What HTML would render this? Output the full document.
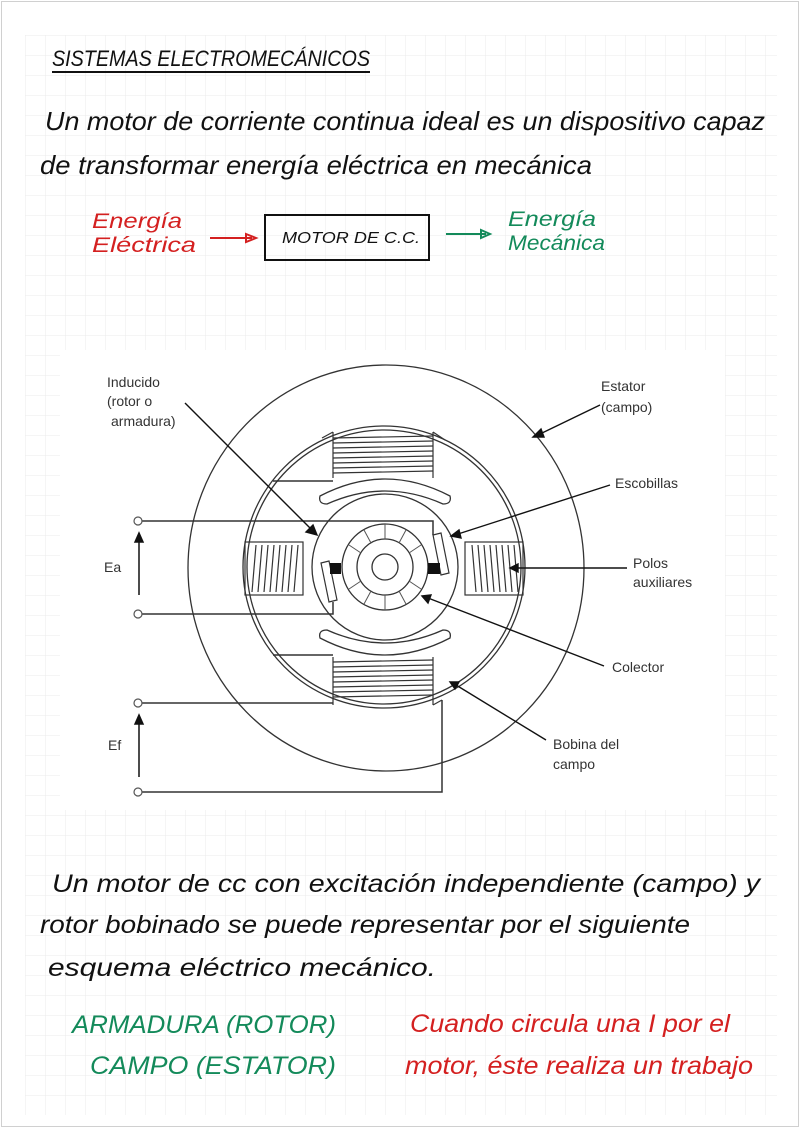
<!DOCTYPE html>
<html><head><meta charset="utf-8"><style>
html,body{margin:0;padding:0;background:#fff}
svg{display:block}
.h{font-family:"Liberation Sans",sans-serif;font-style:italic}
.l{font-family:"Liberation Sans",sans-serif;font-size:14px;fill:#333}
</style></head><body>
<svg width="800" height="1128" viewBox="0 0 800 1128" xmlns="http://www.w3.org/2000/svg">
<defs>
<pattern id="g" x="25" y="35" width="20" height="20" patternUnits="userSpaceOnUse">
<path d="M0 0H20M0 0V20" stroke="#ebebeb" stroke-width="1" fill="none"/>
</pattern>
</defs>
<rect x="0" y="0" width="800" height="1128" fill="#fff"/>
<rect x="25" y="35" width="752" height="1080" fill="url(#g)"/>
<rect x="1.5" y="1.5" width="797" height="1125" fill="none" stroke="#d0d0d0"/>

<!-- header text -->
<text class="h" x="52" y="66" font-size="22" textLength="318" lengthAdjust="spacingAndGlyphs" fill="#111">SISTEMAS ELECTROMECÁNICOS</text>
<line x1="52" y1="72" x2="370" y2="72" stroke="#111" stroke-width="2"/>
<text class="h" x="45" y="130" font-size="26" textLength="720" lengthAdjust="spacingAndGlyphs" fill="#111">Un motor de corriente continua ideal es un dispositivo capaz</text>
<text class="h" x="40" y="174" font-size="26" textLength="552" lengthAdjust="spacingAndGlyphs" fill="#111">de transformar energía eléctrica en mecánica</text>

<text class="h" x="92" y="228" font-size="21" textLength="90" lengthAdjust="spacingAndGlyphs" fill="#d42020">Energía</text>
<text class="h" x="92" y="252" font-size="21" textLength="104" lengthAdjust="spacingAndGlyphs" fill="#d42020">Eléctrica</text>
<line x1="210" y1="238" x2="252" y2="238" stroke="#d42020" stroke-width="2"/>
<path d="M246 234 L256 238 L246 242Z" fill="none" stroke="#d42020" stroke-width="2"/>
<rect x="265" y="215" width="164" height="45" fill="none" stroke="#111" stroke-width="2"/>
<text class="h" x="282" y="243" font-size="16" textLength="138" lengthAdjust="spacingAndGlyphs" fill="#111">MOTOR DE C.C.</text>
<line x1="446" y1="234" x2="486" y2="234" stroke="#138a5a" stroke-width="2"/>
<path d="M481 230 L490 234 L481 238Z" fill="none" stroke="#138a5a" stroke-width="2"/>
<text class="h" x="508" y="226" font-size="21" textLength="88" lengthAdjust="spacingAndGlyphs" fill="#138a5a">Energía</text>
<text class="h" x="508" y="250" font-size="21" textLength="97" lengthAdjust="spacingAndGlyphs" fill="#138a5a">Mecánica</text>

<!-- diagram -->
<rect x="60" y="350" width="665" height="460" fill="#fff"/>
<g fill="none" stroke="#333" stroke-width="1.3">
<ellipse cx="386" cy="568" rx="198" ry="203"/>
<circle cx="384" cy="567" r="141"/>
<circle cx="384" cy="567" r="137"/>
<circle cx="385" cy="567" r="73"/>
<circle cx="385" cy="567" r="43"/>
<circle cx="385" cy="567" r="28"/>
<circle cx="385" cy="567" r="13"/>
</g>
<!-- commutator segments -->
<g stroke="#555" stroke-width="1">
<line x1="385" y1="524" x2="385" y2="539"/><line x1="385" y1="595" x2="385" y2="610"/>
<line x1="406" y1="530" x2="399" y2="543"/><line x1="364" y1="530" x2="371" y2="543"/>
<line x1="421" y1="545" x2="409" y2="553"/><line x1="349" y1="545" x2="361" y2="553"/>
<line x1="421" y1="589" x2="409" y2="581"/><line x1="349" y1="589" x2="361" y2="581"/>
<line x1="406" y1="604" x2="399" y2="591"/><line x1="364" y1="604" x2="371" y2="591"/>
</g>
<!-- pole shoes -->
<g fill="#fff" stroke="#333" stroke-width="1.3">
<path d="M320 496 Q385 462 450 496 Q452 504 443 504 Q385 478 327 504 Q318 504 320 496Z"/>
<path d="M320 638 Q385 672 450 638 Q452 630 443 630 Q385 656 327 630 Q318 630 320 638Z"/>
</g>
<!-- top coil -->
<g stroke="#333" stroke-width="1.2" fill="none">
<line x1="333" y1="432" x2="333" y2="478"/><line x1="433" y1="432" x2="433" y2="478"/>
<line x1="333" y1="432" x2="322" y2="438"/><line x1="433" y1="432" x2="445" y2="440"/>
<line x1="333" y1="438" x2="433" y2="436"/><line x1="333" y1="443" x2="433" y2="441"/><line x1="333" y1="448" x2="433" y2="446"/><line x1="333" y1="453" x2="433" y2="451"/><line x1="333" y1="458" x2="433" y2="456"/><line x1="333" y1="463" x2="433" y2="461"/><line x1="333" y1="468" x2="433" y2="466"/><line x1="333" y1="473" x2="433" y2="471"/>
<!-- bottom coil -->
<line x1="333" y1="657" x2="333" y2="705"/><line x1="433" y1="657" x2="433" y2="705"/>
<line x1="333" y1="662" x2="433" y2="660"/><line x1="333" y1="667" x2="433" y2="665"/><line x1="333" y1="672" x2="433" y2="670"/><line x1="333" y1="677" x2="433" y2="675"/><line x1="333" y1="682" x2="433" y2="680"/><line x1="333" y1="687" x2="433" y2="685"/><line x1="333" y1="692" x2="433" y2="690"/><line x1="333" y1="697" x2="433" y2="695"/>
<line x1="433" y1="705" x2="442" y2="700"/>
<!-- left coil -->
<rect x="245" y="542" width="58" height="53"/>
<line x1="252" y1="592" x2="256" y2="545"/><line x1="258" y1="592" x2="262" y2="545"/><line x1="264" y1="592" x2="268" y2="545"/><line x1="270" y1="592" x2="274" y2="545"/><line x1="276" y1="592" x2="280" y2="545"/><line x1="282" y1="592" x2="286" y2="545"/><line x1="288" y1="592" x2="292" y2="545"/><line x1="294" y1="592" x2="298" y2="545"/>
<!-- right coil -->
<rect x="465" y="542" width="58" height="53"/>
<line x1="472" y1="545" x2="476" y2="592"/><line x1="478" y1="545" x2="482" y2="592"/><line x1="484" y1="545" x2="488" y2="592"/><line x1="490" y1="545" x2="494" y2="592"/><line x1="496" y1="545" x2="500" y2="592"/><line x1="502" y1="545" x2="506" y2="592"/><line x1="508" y1="545" x2="512" y2="592"/><line x1="514" y1="545" x2="518" y2="592"/>
</g>
<!-- brushes -->
<g fill="#fff" stroke="#333" stroke-width="1.2">
<polygon points="433,535 441,533 449,573 441,575"/>
<polygon points="321,563 329,561 337,600 329,602"/>
</g>
<rect x="428" y="563" width="12" height="11" fill="#111"/>
<rect x="330" y="563" width="11" height="11" fill="#111"/>
<!-- wires -->
<g fill="none" stroke="#333" stroke-width="1.5">
<polyline points="142,521 433,521 433,535"/>
<polyline points="142,614 333,614 333,602"/>
<polyline points="142,703 333,703"/>
<polyline points="142,792 442,792 442,700"/>
<polyline points="273,481 333,481"/>
<polyline points="273,655 333,655"/>
</g>
<g fill="#fff" stroke="#555" stroke-width="1.2">
<circle cx="138" cy="521" r="4"/><circle cx="138" cy="614" r="4"/>
<circle cx="138" cy="703" r="4"/><circle cx="138" cy="792" r="4"/>
</g>
<g stroke="#111" stroke-width="1.5" fill="#111">
<line x1="139" y1="595" x2="139" y2="540"/><path d="M135 542 L139 533 L143 542Z"/>
<line x1="139" y1="777" x2="139" y2="722"/><path d="M135 724 L139 715 L143 724Z"/>
</g>
<text class="l" x="104" y="572" font-size="15">Ea</text>
<text class="l" x="108" y="750" font-size="15">Ef</text>
<!-- leaders -->
<g stroke="#111" stroke-width="1.4" fill="#111">
<line x1="185" y1="403" x2="312" y2="530"/><path d="M317 535 L306 532 L313 525Z"/>
<line x1="600" y1="405" x2="540" y2="434"/><path d="M533 437 L541 429 L544 437Z"/>
<line x1="610" y1="485" x2="458" y2="534"/><path d="M451 536 L459 530 L461 538Z"/>
<line x1="627" y1="568" x2="515" y2="568"/><path d="M510 568 L518 564 L518 572Z"/>
<line x1="604" y1="666" x2="428" y2="598"/><path d="M422 596 L431 595 L428 603Z"/>
<line x1="546" y1="740" x2="456" y2="685"/><path d="M450 682 L459 682 L455 689Z"/>
</g>
<text class="l" x="107" y="387">Inducido</text>
<text class="l" x="107" y="406">(rotor o</text>
<text class="l" x="111" y="426">armadura)</text>
<text class="l" x="601" y="391">Estator</text>
<text class="l" x="601" y="412">(campo)</text>
<text class="l" x="615" y="488">Escobillas</text>
<text class="l" x="633" y="568">Polos</text>
<text class="l" x="633" y="587">auxiliares</text>
<text class="l" x="612" y="672">Colector</text>
<text class="l" x="553" y="749">Bobina del</text>
<text class="l" x="553" y="769">campo</text>

<!-- bottom text -->
<text class="h" x="52" y="892" font-size="25" textLength="708" lengthAdjust="spacingAndGlyphs" fill="#111">Un motor de cc con excitación independiente (campo) y</text>
<text class="h" x="40" y="933" font-size="25" textLength="650" lengthAdjust="spacingAndGlyphs" fill="#111">rotor bobinado se puede representar por el siguiente</text>
<text class="h" x="48" y="976" font-size="25" textLength="388" lengthAdjust="spacingAndGlyphs" fill="#111">esquema eléctrico mecánico.</text>
<text class="h" x="72" y="1033" font-size="25" textLength="264" lengthAdjust="spacingAndGlyphs" fill="#138a5a">ARMADURA (ROTOR)</text>
<text class="h" x="90" y="1074" font-size="25" textLength="246" lengthAdjust="spacingAndGlyphs" fill="#138a5a">CAMPO (ESTATOR)</text>
<text class="h" x="410" y="1032" font-size="25" textLength="320" lengthAdjust="spacingAndGlyphs" fill="#d42020">Cuando circula una I por el</text>
<text class="h" x="405" y="1074" font-size="25" textLength="348" lengthAdjust="spacingAndGlyphs" fill="#d42020">motor, éste realiza un trabajo</text>
</svg>
</body></html>
